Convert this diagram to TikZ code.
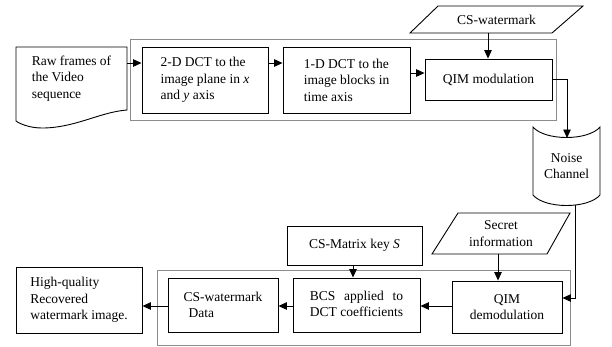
\documentclass[tikz,border=0pt]{standalone}
\usepackage{fontspec}
\setmainfont{Liberation Serif}
\usetikzlibrary{arrows.meta,calc}
\begin{document}
\begin{tikzpicture}[x=1pt,y=-1pt,
  font=\fontsize{13.5}{16.5}\selectfont,
  box/.style={draw, line width=0.9pt, inner sep=0pt, align=left},
  plain/.style={inner sep=0pt, align=center},
  cont/.style={draw=black!45, line width=0.8pt},
  shp/.style={draw, line width=0.9pt, fill=white},
  arr/.style={-{Triangle[length=8.5pt,width=7.5pt]}, line width=0.9pt},
  ln/.style={line width=0.9pt}]
\useasboundingbox (0,0) rectangle (612,346);
% containers
\draw[cont] (130,39) rectangle (556,120);
\draw[cont] (157,270) rectangle (570,345);
% raw frames document
\draw[shp] (16,47) -- (127,47) -- (127,110)
  .. controls (100,112) and (75,128) .. (42,128)
  .. controls (30,128) and (20,124) .. (16,121) -- cycle;
\node[plain, align=left, minimum width=111pt, minimum height=63pt] (raw) at (71.5,78.5)
  {Raw frames of\\the Video\\sequence};
% top row boxes
\node[box, minimum width=126pt, minimum height=66pt] (d2) at (205,80)
  {2-D DCT to the\\image plane in \textit{x}\\and \textit{y} axis};
\node[box, minimum width=127pt, minimum height=66pt] (d1) at (346.5,80)
  {1-D DCT to the\\image blocks in\\time axis};
\node[box, minimum width=127pt, minimum height=41pt] (qim) at (488.5,79.5)
  {QIM modulation};
% CS-watermark parallelogram
\draw[shp] (410,33) -- (552,33) -- (583,6) -- (438,6) -- cycle;
\node[plain, minimum width=142pt, minimum height=27pt] (csw) at (496.5,19.5) {CS-watermark};
% noise channel
\draw[shp] (533,127) .. controls (545,141) and (588,141) .. (600,127)
  -- (600,195) .. controls (588,209) and (545,209) .. (533,195) -- cycle;
\node[plain, minimum width=67pt, minimum height=60pt] (noise) at (566.5,166)
  {Noise\\Channel};
\coordinate (ntop) at (567,138);
\coordinate (nbot) at (575,205);
% bottom row
\node[box, minimum width=135pt, minimum height=39pt] (csm) at (354.5,245.5)
  {CS-Matrix key \textit{S}};
\draw[shp] (432,254) -- (547,254) -- (570,213) -- (458,213) -- cycle;
\node[plain, minimum width=115pt, minimum height=41pt] (sec) at (501,233.5)
  {Secret\\information};
\node[box, align=center, minimum width=110pt, minimum height=52pt] (qim2) at (507,307)
  {QIM\\demodulation};
\node[box, minimum width=127pt, minimum height=54pt] (bcs) at (356.5,305)
  {\begin{tabular}{@{}l@{}}BCS\hfill applied\hfill to\\DCT coefficients\end{tabular}};
\node[box, minimum width=110pt, minimum height=54pt] (csd) at (223,305)
  {CS-watermark\\\hspace*{5pt}Data};
\node[box, minimum width=126pt, minimum height=66pt] (hq) at (79,300)
  {High-quality\\Recovered\\watermark image.};
% connectors top
\draw[arr] (raw.east |- 0,63) -- (d2.west |- 0,63);
\draw[arr] (d2.east |- 0,63) -- (d1.west |- 0,63);
\draw[arr] (d1.east |- 0,73) -- (qim.west |- 0,73);
\draw[arr] (csw.south -| 488,0) -- (qim.north -| 488,0);
\draw[arr] (qim.east) -| (ntop);
% right side down
\draw[arr] (nbot) |- (qim2.east |- 0,298);
% bottom connectors
\draw[arr] (sec.south -| 498,0) -- (qim2.north -| 498,0);
\draw[arr] (csm.south -| 353,0) -- (bcs.north -| 353,0);
\draw[arr] (qim2.west |- 0,306) -- (bcs.east |- 0,306);
\draw[arr] (bcs.west |- 0,306) -- (csd.east |- 0,306);
\draw[arr] (csd.west |- 0,306) -- (hq.east |- 0,306);
\end{tikzpicture}
\end{document}
